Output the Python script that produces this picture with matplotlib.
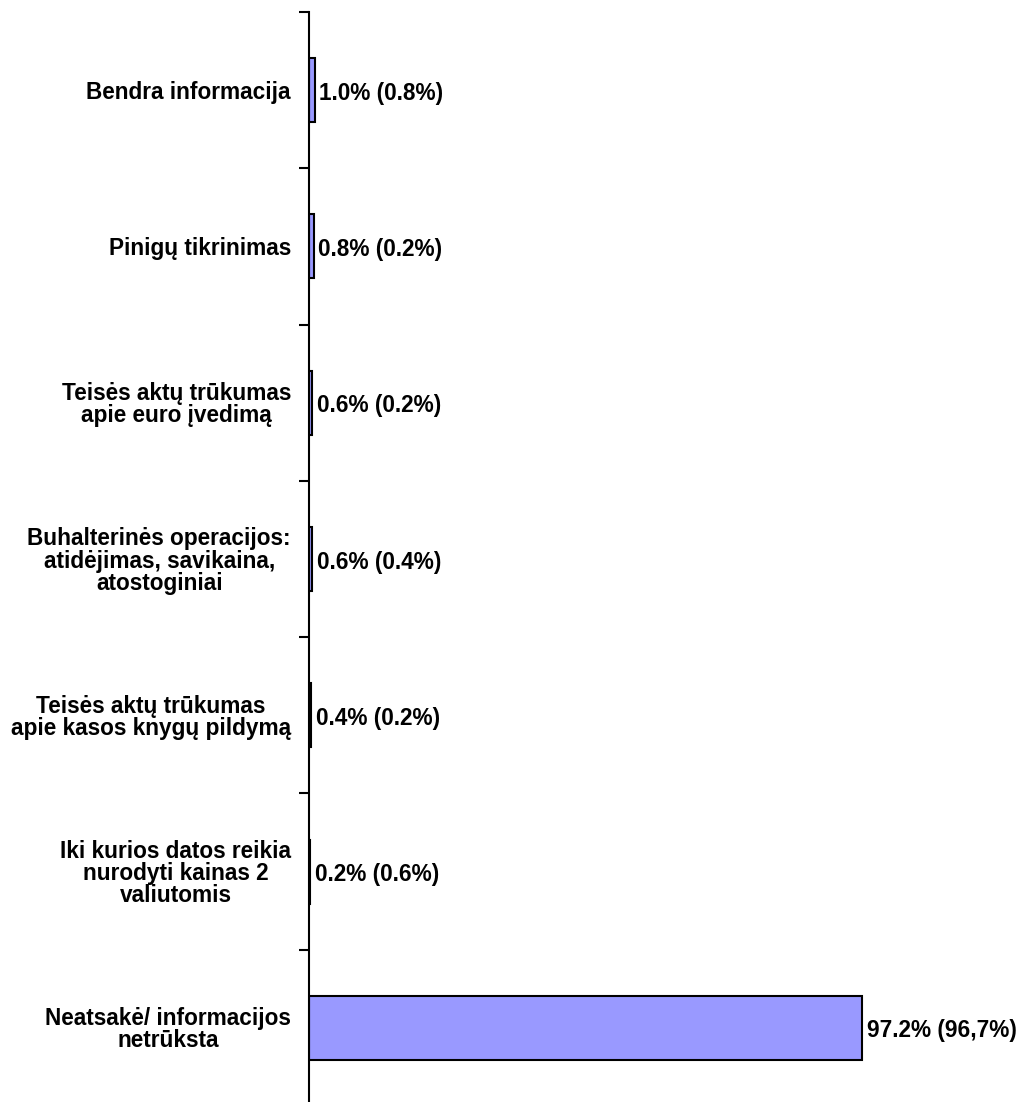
import matplotlib
matplotlib.use("Agg")
import matplotlib.pyplot as plt
import numpy as np

plt.rcParams['font.family'] = ['Liberation Sans', 'DejaVu Sans']

categories = ["Bendra informacija",
              "Pinigų tikrinimas",
              "Teisės aktų trūkumas\napie euro įvedimą",
              "Buhalterinės operacijos:\natidėjimas, savikaina,\natostoginiai",
              "Teisės aktų trūkumas\napie kasos knygų pildymą",
              "Iki kurios datos reikia\nnurodyti kainas 2\nvaliutomis",
              "Neatsakė/ informacijos\nnetrūksta"]
values = [1.0, 0.8, 0.6, 0.6, 0.4, 0.2, 97.2]
previous = ["0.8%", "0.2%", "0.2%", "0.4%", "0.2%", "0.6%", "96,7%"]

fig = plt.figure(figsize=(10.19, 11.02), dpi=100)
# axis line at x=309px, category band from y=12px to y=1106px (below the figure edge)
ax = fig.add_axes([309/1019, 1 - 1106/1102, (1019 - 309)/1019, 1094/1102])

y = np.arange(len(categories))
ax.barh(y, values, height=0.41, color='#9999FF', edgecolor='black', linewidth=1.5)

for yi, v, p in zip(y, values, previous):
    ax.text(v + 0.8, yi + 0.02, f"{v:.1f}% ({p})", va='center', ha='left',
            fontsize=16.3, fontweight='bold')

ax.set_xlim(0, 710/5.69)
ax.set_ylim(len(categories) - 0.5, -0.5)

ax.set_yticks(y)
ax.set_yticklabels(categories, fontsize=16.3, fontweight='bold', multialignment='center',
                   linespacing=0.95)
ax.set_yticks(np.arange(-0.5, len(categories), 1), minor=True)
ax.tick_params(axis='y', which='major', length=0, pad=13)
ax.tick_params(axis='y', which='minor', length=7, width=1.5, direction='out')
ax.set_xticks([])

for s in ['top', 'right', 'bottom']:
    ax.spines[s].set_visible(False)
ax.spines['left'].set_linewidth(1.5)

fig.savefig("out.png", dpi=100)
